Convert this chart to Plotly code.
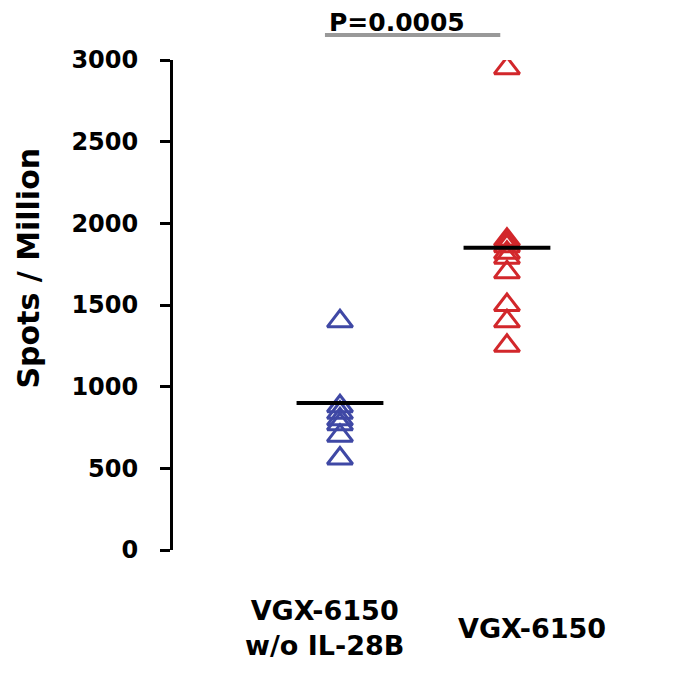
import plotly.graph_objects as go

categories = ["VGX-6150<br>w/o IL-28B", "VGX-6150"]
blue_values = [1400, 880, 840, 800, 770, 700, 560]
red_values = [2950, 1900, 1880, 1860, 1820, 1790, 1700, 1500, 1400, 1250]
means = [900, 1850]
p_text = "P=0.0005"
y_title = "Spots / Million"
y_ticks = [0, 500, 1000, 1500, 2000, 2500, 3000]

colors = ["#3F48A5", "#D2272B"]
label_x = [0.905, 2.15]  # label placement (layout)
FONT = "DejaVu Sans"

fig = go.Figure()
groups = [blue_values, red_values]
for i, vals in enumerate(groups):
    fig.add_trace(go.Scatter(
        x=[i + 1] * len(vals), y=vals, mode="markers",
        marker=dict(symbol="triangle-up-open", size=22, color=colors[i],
                    line=dict(width=3, color=colors[i])),
        showlegend=False, hoverinfo="y"))
    fig.add_trace(go.Scatter(
        x=[i + 1 - 0.26, i + 1 + 0.26], y=[means[i], means[i]], mode="lines",
        line=dict(color="black", width=4), showlegend=False, hoverinfo="skip"))

for i, c in enumerate(categories):
    fig.add_annotation(x=label_x[i], y=-0.16, xref="x", yref="paper",
                       text=c, showarrow=False, yanchor="middle",
                       font=dict(family=FONT, size=27, color="black", weight="bold"))

# significance bar
fig.add_shape(type="line", xref="x", yref="paper", x0=0.91, x1=1.96, y0=1.051, y1=1.051,
              line=dict(color="#999999", width=4))
fig.add_annotation(x=1.34, y=542 / 490, xref="x", yref="paper", text=p_text,
                   showarrow=False, yanchor="top", yshift=2,
                   font=dict(family=FONT, size=25, color="black", weight="bold"))

# y title
fig.add_annotation(x=-0.329, y=0.5755, xref="paper", yref="paper", text=y_title,
                   textangle=-90, showarrow=False, xanchor="center", yanchor="middle",
                   font=dict(family=FONT, size=30, color="black", weight="bold"))

fig.update_layout(
    width=675, height=673, plot_bgcolor="white", paper_bgcolor="white",
    margin=dict(l=165, r=68, t=52, b=131),
    xaxis=dict(range=[0, 2.647], visible=False, showgrid=False, zeroline=False),
    yaxis=dict(range=[0, 3000], tickvals=y_ticks, showgrid=False, zeroline=False,
               showline=True, linecolor="black", linewidth=3,
               ticks="outside", ticklen=10, tickwidth=3, tickcolor="black",
               ticklabelstandoff=17,
               tickfont=dict(family=FONT, size=24, color="black", weight="bold")),
)
fig.write_html("out.html")
